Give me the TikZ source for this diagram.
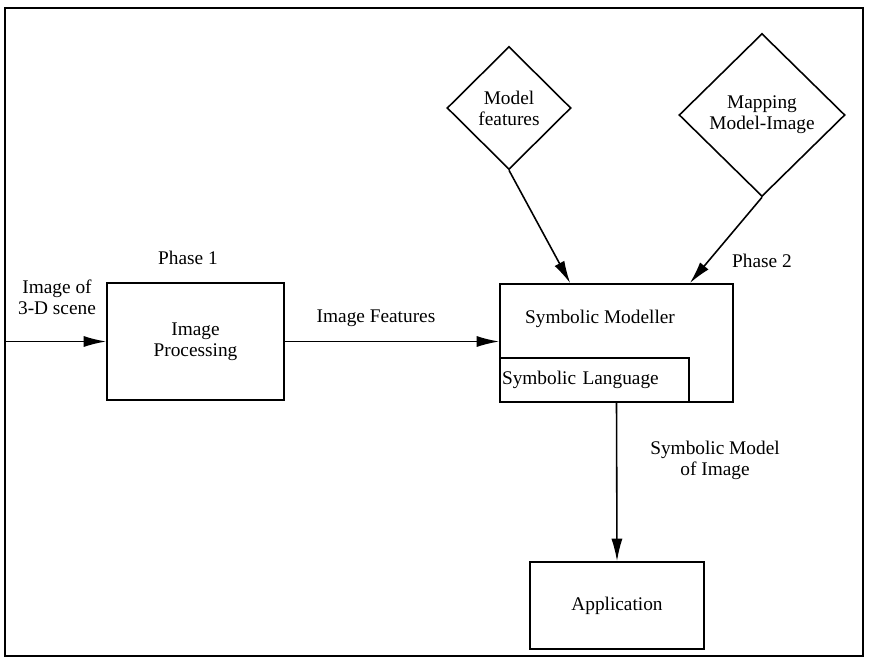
\documentclass[tikz,border=0pt]{standalone}
\usepackage{fontspec}
\setmainfont{Liberation Serif}
\usetikzlibrary{shapes.geometric, arrows.meta, positioning, calc}

\begin{document}
\begin{tikzpicture}[
  x=0.02cm, y=-0.02cm,
  font=\fontsize{11}{12}\selectfont,
  box/.style={draw, line width=0.9pt, inner sep=0pt, align=center},
  dia/.style={draw, diamond, line width=0.9pt, inner sep=0pt, align=center},
  lbl/.style={align=center, inner sep=1pt},
  arrow/.style={-{Latex[length=4.5mm, width=2.2mm]}, line width=0.9pt}
]
\useasboundingbox (0,0) rectangle (869,663);
\draw[line width=0.9pt] (5,8) rectangle (863,656);

\node[box, minimum width=3.54cm, minimum height=2.34cm] (proc) at (195.5,341.5) {Image\\Processing};
\node[box, minimum width=4.66cm, minimum height=2.36cm] (sm) at (616.5,343) {};
\node[lbl] (smtext) at (600,319) {Symbolic Modeller};
\node[box, anchor=south west, minimum width=3.78cm, minimum height=0.88cm, text width=3.7cm, align=left, inner xsep=1pt] (sl) at (sm.south west) {Symbolic Language};
\node[box, minimum width=3.48cm, minimum height=1.74cm] (app) at (617,605.5) {Application};
\node[dia, minimum width=2.48cm, minimum height=2.46cm] (mf) at (509,108) {Model\\features};
\node[dia, minimum width=3.32cm, minimum height=3.26cm] (mm) at (762,115) {Mapping\\Model-Image};

\node[lbl] (inlbl) at (57,297) {Image of\\3-D scene};
\node[lbl] (ph1) at (188,258) {Phase 1};
\node[lbl] (featlbl) at (376,318) {Image Features};
\node[lbl] (ph2) at (762,261) {Phase 2};
\node[lbl] (outlbl) at (715,460) {Symbolic Model\\of Image};

\coordinate (in) at (5,341.5);
\draw[arrow] (in) -- (proc.west);
\draw[arrow] (proc.east) -- (proc.east -| sm.west);
\draw[arrow] (mf.south) -- ($(sm.north west)+(71,0)$);
\draw[arrow] (mm.south) -- (sl.east |- sm.north);
\draw[arrow] (sm.south) -- (app.north);
\end{tikzpicture}
\end{document}
